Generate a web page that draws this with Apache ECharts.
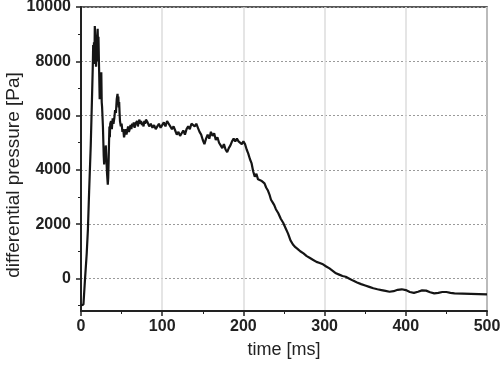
<!DOCTYPE html>
<html>
<head>
<meta charset="UTF-8">
<title>differential pressure</title>
<script src="https://cdn.jsdelivr.net/npm/echarts@6/dist/echarts.min.js"></script>
<style>
  html, body { margin: 0; padding: 0; background: #fff; }
  #main { width: 500px; height: 367px; }
</style>
</head>
<body>
<div id="main"></div>
<script>
// time axis [ms]
var timeMs = [
  0, 1.5, 3, 5, 7, 8.5, 10, 12, 13.5, 14.5, 15, 15.5, 16, 16.5, 17, 17.5, 18, 18.5, 19, 19.5,
  20, 20.5, 21, 21.5, 22, 22.5, 23, 23.5, 24, 24.5, 25, 25.5, 26, 27, 28, 28.5, 29, 30, 30.5, 31,
  32, 33, 33.5, 34, 34.5, 35, 35.5, 36, 37, 38, 39, 40, 41, 42, 43, 44, 45, 45.5, 46, 46.5,
  47, 47.5, 48, 49, 50, 51, 52, 53, 54, 55, 56, 57, 58, 59, 60, 61, 62, 63, 64, 65,
  66, 67, 68, 69, 70, 71, 72, 73, 74, 75, 76, 77, 78, 79, 80, 82, 84, 86, 88, 90,
  92, 94, 96, 98, 100, 102, 104, 106, 108, 110, 112, 114, 116, 118, 120, 122, 124, 126, 128, 130,
  132, 134, 136, 138, 140, 142, 144, 146, 148, 150, 152, 154, 156, 158, 160, 162, 164, 166, 168, 170,
  172, 174, 176, 178, 180, 182, 184, 186, 188, 190, 192, 194, 196, 198, 200, 202, 204, 206, 208, 210,
  212, 214, 216, 218, 220, 222, 224, 226, 228, 230, 232, 234, 236, 238, 240, 243, 246, 249, 252, 255,
  258, 261, 264, 267, 270, 274, 278, 282, 286, 290, 294, 298, 302, 306, 310, 314, 318, 322, 326, 330,
  335, 340, 345, 350, 355, 360, 365, 370, 375, 380, 385, 390, 395, 400, 405, 410, 415, 420, 425, 430,
  435, 440, 445, 450, 455, 460, 470, 480, 490, 500
];
// differential pressure [Pa]
var pressurePa = [
  -1000, -1010, -960, 0, 900, 1800, 3200, 4900, 6600, 7800, 8600, 8200, 8700, 7900, 9300, 8800, 8400, 7800, 8300, 8000,
  8900, 9200, 8500, 8900, 8100, 7400, 6600, 7200, 7500, 7000, 7600, 6500, 6300, 5600, 4500, 4200, 4400, 4300, 4900, 4600,
  3900, 3450, 3700, 4300, 5000, 5600, 5200, 5700, 5800, 5500, 5900, 5700, 5900, 6200, 6100, 6600, 6800, 6500, 6700, 6300,
  6500, 6100, 5800, 5600, 5700, 5400, 5500, 5200, 5350, 5500, 5300, 5450, 5600, 5400, 5500, 5650, 5500, 5700, 5600, 5750,
  5550, 5700, 5650, 5800, 5600, 5750, 5850, 5700, 5800, 5650, 5750, 5600, 5800, 5700, 5850, 5750, 5600, 5700, 5550, 5650,
  5500, 5600, 5700, 5550, 5650, 5750, 5600, 5800, 5700, 5650, 5500, 5600, 5450, 5300, 5400, 5250, 5350, 5450, 5300, 5500,
  5600, 5500, 5700, 5750, 5600, 5700, 5550, 5400, 5300, 5100, 4950, 5150, 5300, 5150, 5400, 5250, 5350, 5100, 5200, 5000,
  4900, 4800, 4950, 4750, 4650, 4800, 4900, 5050, 5150, 5050, 5150, 5050, 5100, 4950, 5050, 4950, 4750, 4600, 4400, 4250,
  3950, 3750, 3850, 3650, 3700, 3600, 3650, 3500, 3350, 3250, 3100, 2900, 2800, 2700, 2550, 2400, 2200, 2050, 1850, 1650,
  1400, 1250, 1150, 1080, 1000, 920, 820, 750, 680, 610, 570, 520, 440, 370, 280, 190, 140, 90, 60, 0,
  -80, -150, -210, -260, -310, -360, -400, -430, -460, -490, -470, -420, -400, -430, -500, -530, -490, -440, -450, -510,
  -550, -530, -500, -500, -530, -550, -560, -570, -580, -590
];
var yMajorTicks = [0, 2000, 4000, 6000, 8000, 10000];
var yMinorTicks = [-1000, 1000, 3000, 5000, 7000, 9000];

var chart = echarts.init(document.getElementById('main'));

var seriesData = [];
for (var i = 0; i < timeMs.length; i++) {
  seriesData.push([timeMs[i], pressurePa[i]]);
}

var fontFam = '"Liberation Sans", Arial, sans-serif';
var plain = function (v) { return String(v); };

var option = {
  animation: false,
  grid: {
    left: 81, top: 7, right: 13, bottom: 56,
    outerBoundsMode: 'none',
    containLabel: false,
    show: true, borderColor: '#222', borderWidth: 1.5
  },
  xAxis: {
    type: 'value',
    min: 0, max: 500, interval: 100,
    name: 'time [ms]',
    nameLocation: 'middle',
    nameGap: 30,
    nameMoveOverlap: false,
    nameTextStyle: { fontFamily: fontFam, fontSize: 18, color: '#222' },
    axisLine: { onZero: false, lineStyle: { color: '#222', width: 2 } },
    axisTick: { length: 5, lineStyle: { color: '#222', width: 1.5 } },
    minorTick: { show: true, splitNumber: 2, length: 3, lineStyle: { color: '#222', width: 1 } },
    axisLabel: { margin: 8, formatter: plain, fontFamily: fontFam, fontSize: 16, fontWeight: 'bold', color: '#222' },
    splitLine: { show: true, lineStyle: { color: '#dcdcdc', width: 1.5 } }
  },
  yAxis: [{
    type: 'value',
    min: -1200, max: 10000,
    name: 'differential pressure [Pa]',
    nameLocation: 'middle',
    nameGap: 58,
    nameMoveOverlap: false,
    nameTextStyle: { fontFamily: fontFam, fontSize: 19, color: '#222', padding: [0, 32, 0, 0] },
    axisLine: { onZero: false, lineStyle: { color: '#222', width: 2 } },
    axisTick: { length: 5, customValues: yMajorTicks, lineStyle: { color: '#222', width: 1.5 } },
    axisLabel: { margin: 10, customValues: yMajorTicks, formatter: plain, fontFamily: fontFam, fontSize: 16, fontWeight: 'bold', color: '#222' },
    splitLine: { show: true, lineStyle: { color: '#9a9a9a', width: 1, type: [2, 2] } }
  }, {
    type: 'value',
    position: 'left',
    min: -1200, max: 10000,
    axisLine: { show: false, onZero: false },
    axisTick: { length: 3, customValues: yMinorTicks, lineStyle: { color: '#222', width: 1 } },
    axisLabel: { show: false },
    splitLine: { show: false }
  }],
  series: [{
    type: 'line',
    data: seriesData,
    showSymbol: false,
    lineStyle: { color: '#151515', width: 2.2 }
  }]
};

chart.setOption(option);
</script>
</body>
</html>
